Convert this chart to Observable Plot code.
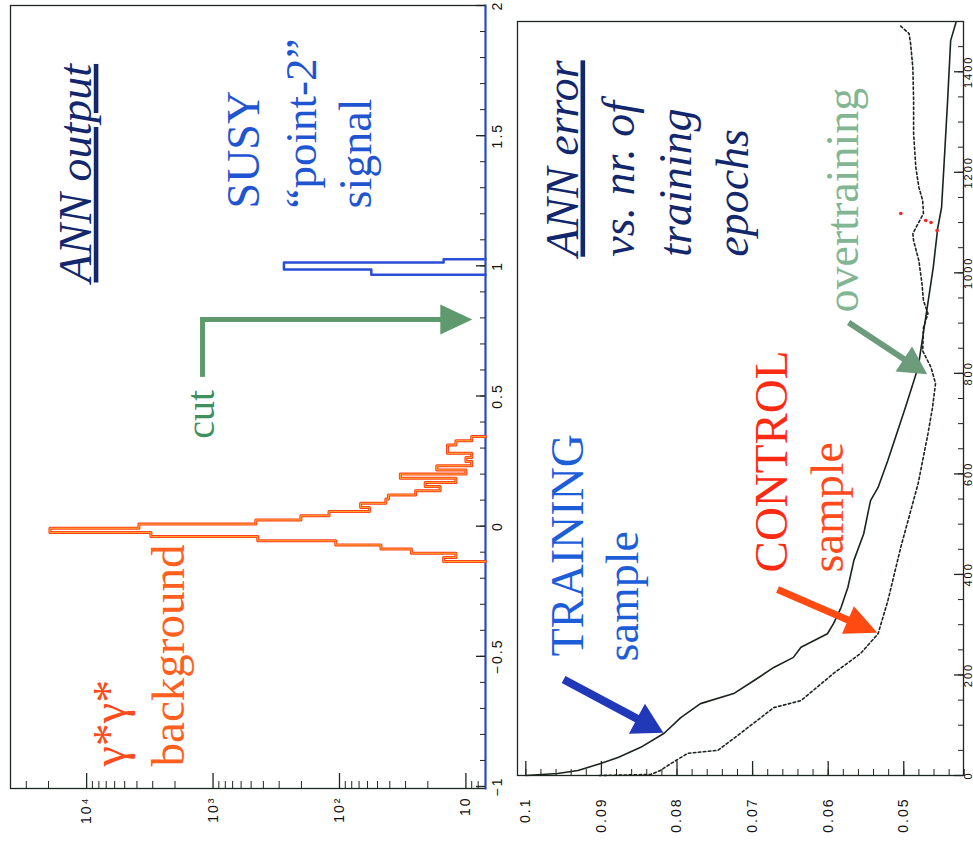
<!DOCTYPE html>
<html><head><meta charset="utf-8">
<script src="https://cdn.jsdelivr.net/npm/d3@7"></script>
<script src="https://cdn.jsdelivr.net/npm/@observablehq/plot@0.6"></script>
<style>
html,body{margin:0;padding:0;background:#fff;overflow:hidden;width:973px;height:849px;}
#rot{position:absolute;left:0;top:0;width:849px;height:973px;transform-origin:0 0;transform:translate(0px,849px) rotate(-90deg);}
#hist,#err{position:absolute;left:0;}
#hist{top:0}
#err{top:500px}
</style></head><body>
<div id="rot"><div id="hist"></div><div id="err"></div></div>
<script>
// ---------- Panel 1: ANN output histograms ----------
const bgEdges = [-0.136, -0.120, -0.104, -0.088, -0.072, -0.056, -0.040, -0.024, -0.008, 0.008, 0.024, 0.040, 0.056, 0.072, 0.088, 0.104, 0.120, 0.136, 0.152, 0.168, 0.184, 0.200, 0.216, 0.232, 0.248, 0.264, 0.280, 0.296, 0.312, 0.328, 0.344];
const bgCounts = [15, 12, 27, 47, 107, 443, 3100, 19500, 3860, 459, 202, 121, 58, 68, 43, 41, 25, 16, 21, 12, 33, 10, 17, 9, 10, 9, 14, 14, 12, 9];
const sigEdges = [0.966, 0.986, 1.013, 1.025];
const sigCounts = [56, 275, 15];
const annMajorTicks = [-1, -0.5, 0, 0.5, 1, 1.5, 2];
const annTickLabels = ["−1", "−0.5", "0", "0.5", "1", "1.5", "2"];
const countMajorTicks = [10, 100, 1000, 10000];
const countTickLabels = ["10", "10²", "10³", "10⁴"];
const cutLeg = [[0.583, 1211], [0.794, 1211]];
const cutTip = [0.794, 8.9];

// ---------- Panel 2: ANN error vs epochs ----------
const trainEpoch = [0, 4, 10, 24, 36, 56, 84, 115, 143, 163, 189, 215, 235, 255, 282, 302, 334, 374, 428, 481, 547, 573, 627, 736, 812, 911, 1011, 1090, 1130, 1209, 1343, 1462, 1498];
const trainErr = [0.1000, 0.0958, 0.0931, 0.0901, 0.0878, 0.0848, 0.0817, 0.0795, 0.0769, 0.0725, 0.0698, 0.0672, 0.0646, 0.0636, 0.0601, 0.0593, 0.0583, 0.0574, 0.0566, 0.0553, 0.0544, 0.0534, 0.0521, 0.0497, 0.0481, 0.0471, 0.0461, 0.0455, 0.0450, 0.0447, 0.0442, 0.0438, 0.0431];
const ctrlEpoch = [0, 2, 10, 20, 44, 50, 84, 135, 149, 203, 243, 282, 348, 454, 581, 680, 732, 780, 812, 845, 891, 919, 945, 979, 1024, 1064, 1078, 1098, 1118, 1144, 1170, 1209, 1277, 1343, 1408, 1456, 1476, 1492];
const ctrlErr = [0.0903, 0.0835, 0.0822, 0.0812, 0.0786, 0.0746, 0.0716, 0.0672, 0.0636, 0.0593, 0.0557, 0.0534, 0.0521, 0.0504, 0.0481, 0.0468, 0.0462, 0.0458, 0.0464, 0.0475, 0.0474, 0.0468, 0.0474, 0.0476, 0.0480, 0.0487, 0.0488, 0.0481, 0.0474, 0.0475, 0.0480, 0.0484, 0.0487, 0.0487, 0.0488, 0.0491, 0.0493, 0.0505];
const redEpoch = [1118, 1104, 1100, 1084];
const redErr = [0.0504, 0.0471, 0.0464, 0.0456];
const epochMajorTicks = [0, 200, 400, 600, 800, 1000, 1200, 1400];
const epochTickLabels = ["0", "200", "400", "600", "800", "1000", "1200", "1400"];
const errMajorTicks = [0.05, 0.06, 0.07, 0.08, 0.09, 0.1];
const errTickLabels = ["0.05", "0.06", "0.07", "0.08", "0.09", "0.1"];
const arrowTraining = [[191, 0.0950], [85, 0.0818]];
const arrowControl = [[370, 0.0667], [284, 0.0535]];
const arrowOver = [[901, 0.0573], [798, 0.0469]];

// ---------- styling ----------
const serif = "'Liberation Serif','Times New Roman',serif";
const sans = "'Liberation Sans',Arial,sans-serif";
const navy = "#13286c", blue = "#1f55d0", green = "#3f8f5f", axisInk = "#1e2620";

function stepOutline(edges, counts, base) {
  const pts = [{x: edges[0], y: base}];
  counts.forEach((c, i) => pts.push({x: edges[i], y: c}));
  pts.push({x: edges[edges.length - 1], y: base});
  return pts;
}
function label(txt, x, y, opts) {
  return Plot.text([txt], {x: () => x, y: () => y, text: d => d, textAnchor: "start", lineAnchor: "bottom", fontFamily: serif, ...opts});
}
function filledArrow(sx, sy, tail, tip, color, shaftW, headLen, headW) {
  const dx = sx.apply(tip[0]) - sx.apply(tail[0]);
  const dy = sy.apply(tip[1]) - sy.apply(tail[1]);
  const len = Math.hypot(dx, dy);
  const rot = Math.atan2(dx, -dy) * 180 / Math.PI;
  const s = shaftW / 2, w = headW / 2, h = headLen;
  return Plot.vector([tail], {
    x: d => d[0], y: d => d[1], length: len, rotate: rot, anchor: "start",
    fill: color, stroke: "none",
    shape: {draw(ctx, l) {
      ctx.moveTo(-s, 0); ctx.lineTo(-s, -(l - h)); ctx.lineTo(-w, -(l - h)); ctx.lineTo(0, -l);
      ctx.lineTo(w, -(l - h)); ctx.lineTo(s, -(l - h)); ctx.lineTo(s, 0); ctx.closePath();
    }}
  });
}
function post(svg) {
  d3.select(svg).selectAll("g[aria-label$='tick label'] text").style("letter-spacing", "2px");
  d3.select(svg).selectAll("text").filter(function () { return /^ANN /.test(this.textContent); })
    .style("text-decoration", "underline");
  return svg;
}

// ---------- Histogram plot (drawn unrotated, container rotated) ----------
const histX = {domain: [-1, 2], range: [62, 843]};
const histY = {type: "log", domain: [7, 40000], range: [485, 10]};
const hsx = Plot.scale({x: histX}), hsy = Plot.scale({y: histY});
const hW = 849 - 60 - 6, hH = 500 - 10 - 15;
const countMinor = [8, 9].concat(...[10, 100, 1000, 10000].map(p => [2, 3, 4, 5, 6, 7, 8, 9].map(k => k * p))).filter(v => v < 40000);
const annMinor = d3.range(-10, 21).map(i => i / 10);

const hist = Plot.plot({
  width: 849, height: 500,
  marginLeft: 60, marginRight: 6, marginTop: 10, marginBottom: 15,
  style: {background: "transparent", overflow: "visible"},
  x: {...histX, label: null}, y: {...histY, label: null},
  marks: [
    Plot.frame({stroke: axisInk, strokeWidth: 1.3}),
    Plot.frame({anchor: "bottom", stroke: "#2146e0", strokeWidth: 2}),
    Plot.tickY(countMinor, {y: d => d, insetRight: hW - 8, stroke: axisInk}),
    Plot.tickY(countMajorTicks, {y: d => d, insetRight: hW - 16, stroke: axisInk, strokeWidth: 1.3}),
    Plot.tickX(annMinor, {x: d => d, insetTop: hH - 5, stroke: axisInk}),
    Plot.tickX(annMajorTicks, {x: d => d, insetTop: hH - 9, stroke: axisInk, strokeWidth: 1.3}),
    Plot.axisX(annMajorTicks, {label: null, tickSize: 0, tickPadding: 7, tickFormat: d => annTickLabels[annMajorTicks.indexOf(d)], fontSize: 14, fontFamily: sans, fill: "#111"}),
    Plot.axisY(countMajorTicks, {label: null, tickSize: 0, tickPadding: 8, tickFormat: d => countTickLabels[countMajorTicks.indexOf(d)], fontSize: 14, fontFamily: sans, fill: "#111"}),
    Plot.line(stepOutline(bgEdges, bgCounts, 7), {x: "x", y: "y", curve: "step-after", stroke: "#ff3f1c", strokeWidth: 3}),
    Plot.line(stepOutline(bgEdges, bgCounts, 7), {x: "x", y: "y", curve: "step-after", stroke: "#ffb030", strokeWidth: 1}),
    Plot.line(stepOutline(sigEdges, sigCounts, 7), {x: "x", y: "y", curve: "step-after", stroke: "#2a4fd6", strokeWidth: 2.5}),
    Plot.line(cutLeg, {x: d => d[0], y: d => d[1], stroke: "#5f9a6e", strokeWidth: 5, strokeLinecap: "square"}),
    filledArrow(hsx, hsy, cutLeg[1], cutTip, "#5f9a6e", 5, 32, 30),
    label("ANN output", 0.936, 9270, {fontSize: 46, fontStyle: "italic", fill: navy}),
    label("SUSY", 1.2205, 437, {fontSize: 46, fill: blue}),
    label("“point-2”", 1.2205, 154, {fontSize: 45, fill: blue}),
    label("signal", 1.2205, 56.5, {fontSize: 46, fill: blue}),
    label("cut", 0.43, 986, {fontSize: 40, fill: green, textAnchor: "middle"}),
    label("γ*γ*", -0.923, 4990, {fontSize: 46, fill: "#ff4a1a"}),
    label("background", -0.923, 1702, {fontSize: 47, fill: "#ff6020"})
  ]
});
document.getElementById("hist").appendChild(post(hist));

// ---------- Error plot ----------
const errX = {domain: [0, 1500], range: [73, 827]};
const errY = {domain: [0.0421, 0.1011], range: [463, 17]};
const esx = Plot.scale({x: errX}), esy = Plot.scale({y: errY});
const eW = 849 - 73 - 22, eH = 473 - 17 - 10;
const epochMinor = d3.range(0, 31).map(i => i * 50);
const errMinor = d3.range(21, 51).map(i => i * 0.002);
const train = trainEpoch.map((e, i) => ({e, v: trainErr[i]}));
const ctrl = ctrlEpoch.map((e, i) => ({e, v: ctrlErr[i]}));
const red = redEpoch.map((e, i) => ({e, v: redErr[i]}));

const err = Plot.plot({
  width: 849, height: 473,
  marginLeft: 73, marginRight: 22, marginTop: 17, marginBottom: 10,
  style: {background: "transparent", overflow: "visible"},
  x: {...errX, label: null}, y: {...errY, label: null},
  marks: [
    Plot.frame({stroke: axisInk, strokeWidth: 1.3}),
    Plot.tickY(errMinor, {y: d => d, insetRight: eW - 7, stroke: axisInk}),
    Plot.tickY(errMajorTicks, {y: d => d, insetRight: eW - 15, stroke: axisInk, strokeWidth: 1.3}),
    Plot.tickX(epochMinor, {x: d => d, insetTop: eH - 5, stroke: axisInk}),
    Plot.tickX(epochMajorTicks, {x: d => d, insetTop: eH - 9, stroke: axisInk, strokeWidth: 1.3}),
    Plot.axisX(epochMajorTicks, {label: null, tickSize: 0, tickPadding: 1, tickFormat: d => epochTickLabels[epochMajorTicks.indexOf(d)], fontSize: 11, fontFamily: sans, fill: "#111"}),
    Plot.axisY(errMajorTicks, {label: null, tickSize: 0, tickPadding: 22, tickFormat: d => errTickLabels[errMajorTicks.indexOf(d)], fontSize: 14, fontFamily: sans, fill: "#111"}),
    Plot.line(train, {x: "e", y: "v", stroke: "#1a241c", strokeWidth: 1.6}),
    Plot.line(ctrl, {x: "e", y: "v", stroke: "#1a241c", strokeWidth: 1.6, strokeDasharray: "2.5,2.5"}),
    Plot.dot(red, {x: "e", y: "v", r: 1.8, fill: "#ff2020", stroke: "none"}),
    filledArrow(esx, esy, arrowTraining[0], arrowTraining[1], "#2139b8", 8, 30, 34),
    filledArrow(esx, esy, arrowControl[0], arrowControl[1], "#ff4a12", 7, 32, 30),
    filledArrow(esx, esy, arrowOver[0], arrowOver[1], "#6c9c7c", 6, 28, 30),
    label("ANN error", 1032, 0.09316, {fontSize: 46, fontStyle: "italic", fill: navy}),
    label("vs. nr. of", 1032, 0.08575, {fontSize: 46, fontStyle: "italic", fill: navy}),
    label("training", 1032, 0.07821, {fontSize: 46, fontStyle: "italic", fill: navy}),
    label("epochs", 1032, 0.07067, {fontSize: 46, fontStyle: "italic", fill: navy}),
    label("TRAINING", 237, 0.0925, {fontSize: 46, fill: "#1d5ed8"}),
    label("sample", 227, 0.0851, {fontSize: 46, fill: "#1d5ed8"}),
    label("CONTROL", 404, 0.0654, {fontSize: 47, fill: "#ff2a12"}),
    label("sample", 404, 0.0580, {fontSize: 46, fill: "#ff4a1a"}),
    label("overtraining", 921, 0.0561, {fontSize: 46, fill: "#82b592"})
  ]
});
document.getElementById("err").appendChild(post(err));
</script></body></html>
